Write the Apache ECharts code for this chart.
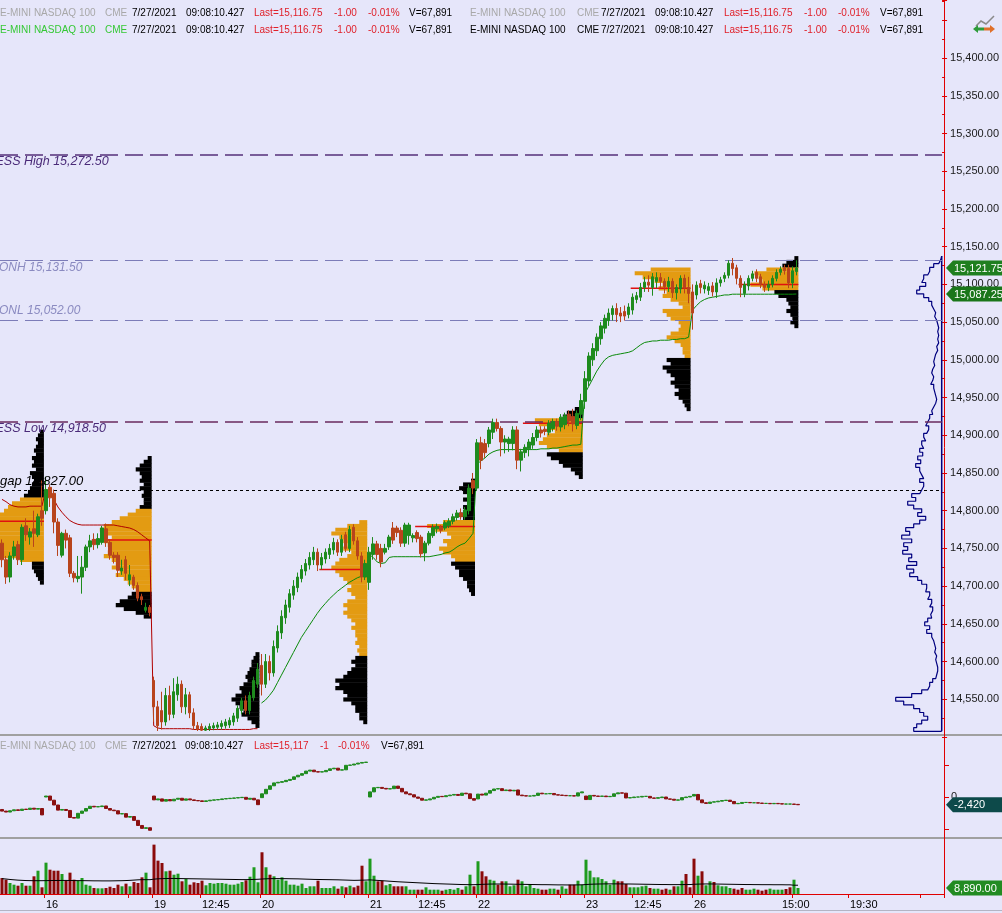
<!DOCTYPE html>
<html><head><meta charset="utf-8">
<script src="https://cdn.jsdelivr.net/npm/echarts@6/dist/echarts.min.js"></script>
<style>html,body{margin:0;padding:0;background:#E6E6FA;}#c{width:1002px;height:913px;}</style>
</head><body><div id="c"></div>
<script>
// ---------------- DATA ----------------
const N_CATS = 236;
const tickLabels = {11:'16',38:'19',50:'12:45',65:'20',92:'21',104:'12:45',119:'22',146:'23',158:'12:45',173:'26',195:'15:00',212:'19:30'};
const tickIdx = [11,32,38,50,65,86,92,104,119,140,146,158,173,198,212,230];

// [open, close, low, high]
const candles = [
[14757,14735,14725,14762],[14735,14712,14703,14740],[14712,14740,14705,14745],[14740,14752,14735,14760],[14755,14735,14728,14760],
[14735,14778,14728,14782],[14780,14768,14760,14790],[14765,14772,14755,14777],[14776,14770,14752,14800],[14768,14792,14765,14796],
[14800,14790,14780,14840],
[14800,14828,14795,14845],[14831,14817,14805,14835],[14823,14785,14770,14828],[14785,14754,14740,14790],[14741,14770,14738,14772],
[14770,14761,14750,14775],[14764,14717,14712,14768],[14717,14711,14705,14720],[14710,14713,14705,14740],[14712,14725,14690,14740],
[14725,14752,14720,14755],[14752,14760,14745,14768],[14762,14755,14748,14770],[14755,14763,14750,14770],[14758,14777,14755,14780],
[14776,14758,14752,14783],[14758,14741,14735,14762],[14741,14738,14730,14745],[14741,14721,14712,14745],[14720,14724,14715,14735],
[14735,14717,14708,14740],[14708,14715,14700,14728],[14712,14701,14695,14715],[14701,14684,14680,14705],[14686,14682,14675,14690],
[14668,14672,14665,14678],[14672,14665,14660,14675],
[14575,14540,14520,14580],[14540,14515,14508,14548],[14535,14520,14510,14560],[14520,14555,14515,14565],[14555,14530,14522,14568],
[14530,14560,14525,14578],[14556,14570,14548,14580],[14570,14540,14532,14575],[14540,14556,14530,14565],[14556,14532,14525,14560],
[14532,14515,14510,14538],[14515,14510,14508,14520],[14514,14509,14508,14518],[14509,14512,14508,14515],[14511,14514,14508,14518],
[14512,14515,14509,14519],[14513,14516,14510,14520],[14514,14518,14510,14522],[14515,14520,14511,14524],[14516,14522,14512,14526],
[14520,14528,14515,14532],[14525,14538,14520,14542],[14535,14548,14530,14552],[14548,14535,14530,14555],[14535,14555,14530,14560],
[14552,14575,14548,14580],[14570,14590,14565,14598],
[14595,14570,14555,14610],[14570,14600,14565,14610],[14600,14585,14575,14608],[14585,14620,14580,14628],[14618,14640,14612,14648],
[14638,14660,14630,14668],[14658,14675,14650,14682],[14672,14690,14665,14696],[14688,14700,14682,14708],[14698,14712,14692,14718],
[14710,14722,14705,14728],[14720,14730,14714,14736],[14728,14738,14722,14745],[14735,14745,14728,14752],[14745,14728,14720,14750],
[14728,14738,14722,14744],[14736,14745,14730,14750],[14742,14750,14736,14756],[14748,14758,14742,14764],[14758,14745,14740,14762],
[14745,14762,14740,14768],[14768,14750,14745,14772],[14750,14775,14745,14780],[14778,14760,14755,14782],[14760,14740,14735,14765],
[14740,14712,14705,14745],[14712,14730,14708,14735],
[14705,14745,14695,14752],[14742,14756,14735,14765],[14756,14742,14735,14760],[14750,14732,14725,14756],[14745,14750,14742,14756],
[14752,14765,14748,14768],[14777,14761,14756,14785],[14777,14771,14765,14780],[14774,14757,14752,14778],[14757,14781,14752,14784],
[14767,14781,14755,14784],[14764,14767,14758,14770],[14771,14763,14758,14774],[14765,14743,14738,14768],[14744,14757,14733,14760],
[14757,14770,14754,14773],[14767,14778,14764,14782],[14776,14779,14770,14783],[14778,14774,14770,14781],[14777,14784,14774,14787],
[14780,14786,14777,14790],[14786,14792,14782,14796],[14791,14797,14787,14801],[14797,14792,14788,14803],[14792,14801,14788,14805],
[14800,14830,14795,14835],[14840,14830,14822,14850],
[14830,14890,14826,14895],[14890,14867,14855,14898],[14889,14877,14870,14895],[14889,14907,14884,14911],[14904,14917,14895,14922],
[14917,14909,14905,14922],[14909,14891,14872,14912],[14891,14895,14876,14900],[14889,14895,14878,14898],[14889,14907,14880,14912],
[14907,14867,14855,14912],[14867,14878,14852,14882],[14877,14884,14870,14888],[14882,14891,14872,14895],[14887,14897,14882,14903],
[14897,14907,14892,14912],[14907,14903,14897,14912],[14908,14905,14900,14912],[14904,14916,14900,14920],[14909,14918,14905,14922],
[14918,14912,14906,14922],[14911,14924,14905,14928],[14914,14926,14908,14930],[14928,14919,14912,14933],[14925,14915,14905,14935],
[14913,14929,14908,14933],[14928,14946,14920,14955],
[14945,14975,14935,14985],[14972,15005,14965,15010],[15000,15015,14992,15022],[15012,15030,15005,15035],[15028,15045,15020,15050],
[15042,15055,15035,15060],[15052,15062,15045,15068],[15060,15068,15052,15072],[15068,15060,15050,15075],[15062,15058,15050,15070],
[15064,15058,15052,15072],[15060,15070,15055,15075],[15066,15083,15060,15088],[15080,15085,15075,15090],[15083,15096,15078,15102],
[15096,15103,15090,15110],[15103,15099,15090,15112],[15096,15110,15085,15115],[15104,15109,15095,15116],[15109,15104,15095,15115],
[15104,15097,15088,15108],[15097,15104,15090,15110],[15104,15089,15082,15108],[15089,15096,15080,15100],[15094,15108,15088,15112],
[15108,15095,15088,15113],[15096,15088,15075,15110],
[15090,15062,15040,15100],[15086,15099,15080,15104],[15101,15096,15088,15106],[15094,15099,15088,15104],[15092,15097,15086,15102],
[15098,15090,15084,15103],[15090,15102,15082,15108],[15102,15106,15097,15110],[15108,15112,15103,15116],[15112,15128,15108,15132],
[15128,15121,15112,15135],[15122,15108,15100,15126],[15108,15096,15083,15112],[15088,15100,15083,15104],[15098,15108,15092,15112],
[15108,15114,15104,15118],[15116,15108,15103,15120],[15110,15100,15095,15114],[15100,15096,15090,15104],[15096,15100,15091,15105],
[15100,15108,15096,15112],[15108,15116,15104,15120],[15116,15120,15112,15124],[15122,15118,15113,15126],[15121,15102,15095,15126],
[15102,15118,15095,15124],[15117,15121.75,15112,15132]
];

// volume (thousands of contracts)
const volume = [
23.7,21.2,16.3,13.8,12.3,16.3,12.3,12.3,26.2,34.5, 9.9,46.4,36.0,34.5,34.5,29.6,19.7,31.6,21.2,19.7,
23.7,13.8,12.3,8.9,8.4,8.4,8.9,10.8,8.9,13.8, 11.4,15.3,11.4,17.8,16.3,24.7,31.6,9.9,73.1,49.4,
45.9,33.6,34.5,28.6,30.1,18.8,22.2,13.8,17.3,16.3, 19.7,12.9,16.3,15.3,16.3,16.3,15.3,13.8,13.8,15.3,
17.8,20.3,25.6,39.6,17.3,61.8,39.6,28.6,26.2,21.2, 24.7,19.7,13.8,13.8,12.3,15.3,8.9,11.4,11.4,19.7,
8.9,8.9,8.9,11.4,7.9,11.4,9.9,12.3,9.9,12.3, 41.9,18.8,52.3,27.1,18.8,19.7,12.9,14.8,11.4,11.4,
11.4,11.4,6.4,6.4,6.4,6.4,9.9,6.4,6.4,6.4, 4.9,6.4,7.4,6.4,8.9,6.4,11.4,28.6,11.4,48.5,
33.6,26.2,21.2,19.7,13.8,18.8,18.8,11.4,12.9,21.2, 18.8,11.4,14.8,8.9,7.9,6.4,6.4,7.9,7.9,6.4,
11.4,7.9,13.8,13.8,19.7,13.8,50.8,34.5,24.7,24.7, 22.2,18.8,13.8,21.2,18.8,18.8,14.8,9.9,9.9,9.9,
11.4,12.3,8.9,7.9,7.9,6.4,7.9,6.4,11.4,11.4, 19.7,29.6,9.9,52.3,27.1,33.6,12.9,18.8,17.8,12.9,
11.4,11.4,8.9,7.9,6.4,8.9,6.4,6.4,7.9,6.4, 4.9,6.4,7.9,6.4,6.4,6.4,7.4,9.9,21.2,8.89
];
const volumeMA = [
22.7,22.2,21.5,21.0,20.5,20.2,19.9,19.8,19.7,19.7,19.7,
19.8,19.9,20.0,20.0,20.1,20.1,20.0,19.9,19.8,19.8,19.7,19.6,19.5,19.5,19.4,19.4,19.4,19.5,19.6,19.7,19.9,20.2,20.6,21.0,21.2,21.2,21.2,
22.0,22.5,22.7,22.9,23.0,23.0,22.9,22.8,22.7,22.6,22.5,22.4,22.3,22.2,22.1,22.0,21.9,21.8,21.7,21.6,21.5,
21.4,21.3,21.3,21.4,21.6,21.8,22.2,22.5,22.7,22.8,22.8,22.7,22.7,
22.6,22.5,22.4,22.2,22.0,21.8,21.6,21.5,21.4,21.3,21.2,21.1,21.0,20.8,20.6,20.4,20.2,20.3,20.5,20.6,20.9,
20.5,20.1,19.7,19.3,18.9,18.5,18.1,17.8,17.5,17.2,16.9,16.6,16.3,16.0,15.7,15.4,15.2,15.0,14.8,14.6,14.4,14.2,14.0,13.9,13.8,13.8,
14.0,14.3,14.5,14.7,14.8,14.8,14.8,14.7,14.6,14.5,14.4,14.3,14.2,14.1,14.0,13.9,13.8,13.8,13.7,13.6,13.5,13.5,13.4,13.4,13.4,13.5,13.6,
14.0,14.4,14.6,14.8,14.9,15.0,15.0,15.0,15.0,14.9,14.9,14.8,14.7,14.6,14.5,14.4,14.3,14.2,14.1,14.0,14.0,13.9,13.9,13.9,13.9,14.0,14.0,
14.4,14.6,14.8,14.9,14.9,14.8,14.7,14.6,14.5,14.4,14.3,14.2,14.1,14.0,14.0,13.9,13.9,13.8,13.8,13.8,13.7,13.7,13.7,13.6,13.6,13.0,13.0
];

// session delta indicator, thousands: [open, close]
const delta = [
[-3.9,-4.4],[-4.4,-4.7],[-4.7,-4.3],[-4.3,-4.0],[-4.0,-4.2],[-4.2,-3.8],[-3.8,-3.9],[-3.9,-3.5],[-3.5,-3.8],[-3.8,-3.6],[-3.6,-5.6],
[0,0.3],[0.3,-1.0],[-1.0,-2.5],[-2.5,-4.1],[-4.1,-3.9],[-3.9,-4.2],[-4.2,-6.4],[-6.4,-6.6],[-6.6,-5.1],[-5.1,-4.4],
[-4.4,-3.6],[-3.6,-2.9],[-2.9,-3.1],[-3.1,-3.0],[-3.0,-2.8],[-2.8,-3.6],[-3.6,-4.1],[-4.1,-4.3],[-4.3,-5.3],[-5.3,-5.2],
[-5.2,-6.3],[-6.3,-6.1],[-6.1,-7.3],[-7.3,-8.9],[-8.9,-9.8],[-9.8,-9.6],[-9.6,-10.4],
[0.3,-0.9],[-0.9,-0.6],[-0.6,-1.3],[-1.3,-0.8],[-0.8,-1.2],[-1.2,-0.7],[-0.7,-0.4],[-0.4,-1.0],[-1.0,-0.6],[-0.6,-0.9],
[-0.9,-1.1],[-1.1,-1.2],[-1.2,-1.4],[-1.4,-1.2],[-1.2,-1.0],[-1.0,-0.9],[-0.9,-0.8],[-0.8,-0.6],[-0.6,-0.5],[-0.5,-0.4],
[-0.4,-0.3],[-0.3,-0.2],[-0.2,-0.1],[-0.1,-0.7],[-0.7,-0.4],[-0.4,-0.9],[-0.9,-2.4],
[-0.2,1.0],[1.0,2.4],[2.4,3.5],[3.5,4.4],[4.4,4.6],[4.6,4.8],[4.8,5.2],[5.2,5.5],[5.5,6.3],[6.3,6.8],
[6.8,7.3],[7.3,8.1],[8.1,8.4],[8.4,7.9],[7.9,7.8],[7.8,7.9],[7.9,8.3],[8.3,8.8],[8.8,9.0],[9.0,8.4],
[8.4,8.5],[8.5,9.9],[9.9,10.0],[10.0,10.3],[10.3,10.6],[10.6,10.8],[10.8,10.9],
[0,1.6],[1.6,2.9],[2.9,3.0],[3.0,2.7],[2.7,2.5],[2.5,2.6],[2.6,3.4],[3.4,2.7],[2.7,1.6],[1.6,1.0],
[1.0,0.7],[0.7,0.0],[0.0,-0.4],[-0.4,-1.0],[-1.0,-0.9],[-0.9,-0.6],[-0.6,-0.1],[-0.1,0.2],[0.2,0.1],[0.1,0.4],
[0.4,0.6],[0.6,0.8],[0.8,0.5],[0.5,1.2],[1.2,1.0],[1.0,-0.5],[-0.5,-1.0],
[-0.6,0.9],[0.9,0.6],[0.6,1.2],[1.2,2.0],[2.0,2.5],[2.5,2.6],[2.6,2.0],[2.0,2.2],[2.2,1.9],[1.9,2.1],
[2.2,0.6],[0.6,0.4],[0.4,0.3],[0.3,0.3],[0.3,0.5],[0.5,1.2],[1.2,1.0],[1.0,1.0],[1.0,1.1],[1.1,0.7],
[0.7,0.6],[0.6,0.5],[0.5,0.4],[0.4,0.4],[0.4,0.3],[0.3,1.3],[1.3,1.6],
[0.3,-0.8],[-0.8,0.5],[0.5,0.3],[0.3,0.2],[0.2,0.3],[0.3,0.1],[0.1,0.2],[0.2,1.0],[1.0,1.3],[1.3,1.2],
[1.2,-0.3],[-0.3,-0.2],[-0.2,0.0],[0.0,0.0],[0.0,0.2],[0.2,0.2],[0.2,-0.3],[-0.3,-0.4],[-0.4,-0.2],[-0.2,0.0],
[0.0,-0.6],[-0.6,-0.7],[-0.7,-1.0],[-1.0,-0.9],[-0.9,-0.2],[-0.2,0.0],[0.0,0.2],
[0.3,0.8],[0.8,-0.9],[-0.9,-1.8],[-1.8,-2.0],[-2.0,-1.6],[-1.6,-1.5],[-1.5,-1.3],[-1.3,-1.1],[-1.1,-1.0],[-1.0,-1.4],
[-1.4,-2.1],[-2.1,-2.0],[-2.0,-1.7],[-1.7,-1.7],[-1.7,-1.8],[-1.8,-1.8],[-1.8,-1.9],[-1.9,-2.0],[-2.0,-2.0],[-2.0,-2.1],
[-2.1,-2.0],[-2.0,-2.1],[-2.1,-2.2],[-2.2,-2.2],[-2.2,-2.2],[-2.2,-2.3],[-2.3,-2.42]
];

// VWAP lines
const vwapRed = [ // idx 0..64
14815,14812,14808,14806,14805,14805,14805,14806,14806,14806,14806,
14828,14826,14815,14805,14798,14792,14787,14784,14782,14781,14781,14781,14781,14781,14781,14781,14781,14781,14780,14779,14778,14777,14775,14772,14768,14764,14760,
14515,14512,14511,14511,14511,14511,14511,14511,14511,14511,14510,14510,14510,14510,14510,14510,14510,14510,14510,14510,14510,14510,14510,14510,14510,14511,14511
];
const vwapGreenStart = 65;
const vwapGreen = [ // idx 65..199
14545,14549,14555,14562,14572,14582,14592,14602,14612,14622,14632,14640,14648,14656,14664,14671,14677,14683,14688,14693,14697,14701,14705,14708,14711,14713,14715,
14742,14738,14732,14730,14731,14738,14739,14739,14739,14739,14739,14739,14739,14739,14739,14739,14740,14741,14742,14744,14745,14748,14752,14755,14757,14763,14770,
14862,14866,14870,14875,14878,14880,14881,14881,14881,14881,14881,14881,14881,14881,14881,14881,14882,14882,14882,14883,14883,14884,14885,14886,14887,14887,14888,
14955,14965,14975,14985,14993,15000,15004,15006,15007,15008,15009,15010,15012,15016,15020,15023,15024,15025,15025,15026,15026,15026,15027,15027,15028,15028,15030,
15066,15072,15077,15080,15082,15083,15084,15085,15086,15086,15087,15087,15087,15087,15087,15087,15087,15087,15087,15087,15087,15087,15087,15087,15087,15087,15087.25
];

// session volume profiles: meta [lastBarIdx, topPrice, valueAreaLow, valueAreaHigh]; widths in bars, 5-pt levels going down
const profMeta = [[10,14905,14735,14815],[37,14870,14695,14800],[64,14610,0,0],[91,14785,14610,14785],
                  [118,14840,14735,14785],[145,14935,14880,14920],[172,15120,15005,15120],[199,15135,15095,15120]];
const prof15 = [1,1.5,2,1.5,2,2.5,2,3,2.5,3,2,3.5,3,2.5,3,3.5,4,5,6,8,9,10,11,12,13,12,12,13,12,12,13,12,11,10,6,3,3,2.5,2,1.5,1];
const prof16 = [1,2,3,4,3,2.5,3,2,3,2,2.5,2,2,3,4,6,8,10,12,13,11,10,12,11,10,11,12,10,9,10,8,9,7,6,5,4,5,6,8,9,7,4,2];
const prof19 = [1,1.5,2,2,2.5,3,3.5,3,4,5,4.5,6,7,6,5,4,4.5,3,2,1];
const prof20 = [2,5,8,9,7,6,5,6,4,5,7,8,9,8,7,6,5,4,5,4,3,5,6,5,6,5,4,3,4,3,3,2.5,3,2,2.5,2,3,4,3,4,5,6,8,7,8,6,5,6,4,3,3,2,2,1];
const prof21 = [1,3,4,3,2,3,2,3,2.5,4,3,8,12,10,7,6,8,7,9,8,6,5,6,5,4,4,3,2,2,1.5,1];
const prof22 = [2,4,5,12,11,8,7,9,10,11,9,6,9,8,6,5,3,2,1];
const prof23 = [10,14,12,9,7,8,6,7,5,3,2,7,6,5,3,2.5,3,5,6,4,2.5,2,2,1.5,6,5,7,6,5,4,5,4,3,4,3,2,1.5,1];
const prof26 = [1,3,4,8,11,10,9,12,9,6,5,3,2.5,2,3,2,1.5,2,1];
const profWidths = [prof15,prof16,prof19,prof20,prof21,prof22,prof23,prof26];

// point of control lines [fromIdx, toIdx, price]
const pocLines = [[0,10,14786],[23,37,14761],[80,91,14722],[104,118,14779],[131,145,14916],[158,172,15095],[185,199,15100]];

// composite profile (right side), 5-pt levels from compTop down, width in px units
const compTop = 15135;
const compW = [1,3,8,12,14,18,20,16,22,25, 18,13,10,8,6,7,5,4,3,4, 3,4,3,5,4,6,7,8,7,9, 10,8,9,11,8,7,6,5,6,8,
 10,9,12,14,16,13,15,18,16,20, 18,22,19,24,21,26,22,20,18,22, 18,20,22,30,26,34,28,20,24,16, 22,28,36,32,40,30,38,34,39,30,
 33,25,35,28,32,24,20,15,16,12, 14,10,12,9,11,10,14,17,12,15, 10,8,7,6,7,5,6,5,4,4, 5,6,9,12,14,20,30,46,38,28, 22,18,14,20,25,28];

// reference lines
const refValues = [15272.5, 15131.5, 15052, 14918.5, 14827];
const refTexts = ['ESS High 15,272.50','ONH 15,131.50','ONL 15,052.00','ESS Low 14,918.50','gap 14,827.00'];

// header texts
const hdrText = ['E-MINI NASDAQ 100','CME','7/27/2021','09:08:10.427','Last=15,116.75','-1.00','-0.01%','V=67,891'];
const hdrX1 = [0,105,132,186,254,334,368,409];
const hdrX2 = [470,577,601,655,724,804,838,880];
const hdrText3 = ['E-MINI NASDAQ 100','CME','7/27/2021','09:08:10.427','Last=15,117','-1','-0.01%','V=67,891'];
const hdrX3 = [0,105,132,185,254,320,338,381];

// ---------------- STYLE ----------------
const FONT = '"Liberation Sans", Arial, sans-serif';
const UP = '#1E8B1E', DN = '#B8441C', VUP = '#1E9B1E', VDN = '#8B0A0A';
const AXRED = '#E00000';
const refStyle = [
  {c:'#55307A', w:1.5, t:[18,7], lc:'#4A2A78', fs:12.5, x:-4.5, dy:7},
  {c:'#7C7CB8', w:1, t:[18,7], lc:'#8A8AC0', fs:12, x:-1, dy:7},
  {c:'#7C7CB8', w:1, t:[18,7], lc:'#8A8AC0', fs:12, x:-1, dy:-10},
  {c:'#6A2A5E', w:1.5, t:[18,7], lc:'#4A2A78', fs:12.5, x:-4.5, dy:7},
  {c:'#000000', w:1, t:[3,3], lc:'#000000', fs:13, x:0, dy:-9}
];

const cats = Array.from({length:N_CATS}, (_, i) => String(i));
const fmt2 = v => v.toLocaleString('en-US',{minimumFractionDigits:2, maximumFractionDigits:2});

// profile table
const profData = [];
profMeta.forEach((m, k) => {
  profWidths[k].forEach((w, i) => {
    const p = m[1] - 5 * i;
    const va = (p >= m[2] && p <= m[3]) ? 1 : 0;
    profData.push([m[0], p, w, va]);
  });
});
const compData = [[0, compTop + 2.5]];
compW.forEach((w, i) => { const p = compTop - 5 * i; compData.push([w, p + 2.5]); compData.push([w, p - 2.5]); });
const compBottom = compTop - 5 * (compW.length - 1) - 2.5;
compData.push([0, compBottom]);

const chart = echarts.init(document.getElementById('c'), null, {width:1002, height:913});

const hiddenCat = (gi) => ({type:'category', gridIndex:gi, data:cats, boundaryGap:true,
  axisLine:{show:false}, axisTick:{show:false}, axisLabel:{show:false}, splitLine:{show:false}});

const option = {
  backgroundColor:'#E6E6FA',
  animation:false,
  grid:[
    {left:0, width:944, top:0, height:737},
    {left:0, width:944, top:741, height:88},
    {left:0, width:944, top:842, height:52},
    {left:860, width:81.7, top:0, height:737}
  ],
  xAxis:[
    hiddenCat(0), hiddenCat(1),
    {type:'category', gridIndex:2, data:cats, boundaryGap:true,
     axisLine:{show:true, lineStyle:{color:AXRED, width:1}},
     axisTick:{show:true, length:4, lineStyle:{color:AXRED}, interval:(i) => tickIdx.indexOf(i) >= 0},
     axisLabel:{show:true, interval:(i) => tickLabels[i] !== undefined, formatter:(v, i) => tickLabels[+v] || '',
       align:'left', margin:5, color:'#000', fontSize:11, fontFamily:FONT},
     splitLine:{show:false}},
    {type:'value', gridIndex:3, min:0, max:81.7, inverse:true, show:false}
  ],
  yAxis:[
    {type:'value', gridIndex:0, position:'right', min:14500, max:15477, interval:50, scale:false,
     axisLine:{show:false}, splitLine:{show:false},
     axisTick:{show:true, length:5, lineStyle:{color:AXRED}},
     minorTick:{show:true, splitNumber:2, length:3, lineStyle:{color:AXRED}},
     axisLabel:{margin:8, color:'#1a1a1a', fontSize:11, fontFamily:FONT, showMaxLabel:false, showMinLabel:false,
       formatter:(v) => (v < 14550 || v > 15400) ? '' : fmt2(v)}},
    {type:'value', gridIndex:1, position:'right', min:-10, max:17.5, interval:10,
     axisLine:{show:false}, splitLine:{show:false},
     axisTick:{show:true, length:5, lineStyle:{color:AXRED}},
     axisLabel:{margin:7, color:'#1a1a1a', fontSize:11, fontFamily:FONT, showMaxLabel:false, formatter:(v) => v === 0 ? '0' : ''}},
    {type:'value', gridIndex:2, position:'right', min:0, max:77, show:false},
    {type:'value', gridIndex:3, min:14500, max:15477, show:false}
  ],
  series:[
    {type:'custom', name:'profiles', xAxisIndex:0, yAxisIndex:0, z:1, silent:true,
     data:profData, encode:{x:0, y:1},
     renderItem:(params, api) => {
       const end = api.value(0), p = api.value(1), w = api.value(2), va = api.value(3);
       const bw = api.size([1, 0])[0];
       const right = api.coord([end, p])[0] + bw / 2;
       const yT = api.coord([end, p + 2.5])[1], yB = api.coord([end, p - 2.5])[1];
       return {type:'rect', shape:{x:right - w * bw, y:yT, width:w * bw, height:yB - yT + 0.4},
               style:{fill: va ? '#E39B12' : '#000000'}};
     }},
    {type:'custom', name:'poc', xAxisIndex:0, yAxisIndex:0, z:3, silent:true,
     data:pocLines, encode:{x:[0,1], y:2},
     renderItem:(params, api) => {
       const bw = api.size([1, 0])[0];
       const a = api.coord([api.value(0), api.value(2)]), b = api.coord([api.value(1), api.value(2)]);
       return {type:'line', shape:{x1:a[0] - bw / 2, y1:a[1], x2:b[0] + bw / 2, y2:b[1]},
               style:{stroke:'#E01010', lineWidth:1.5}};
     }},
    {type:'line', xAxisIndex:0, yAxisIndex:0, z:4, silent:true, symbol:'none',
     data:vwapRed.map((v, i) => [i, v]), lineStyle:{color:'#B00000', width:1}},
    {type:'line', xAxisIndex:0, yAxisIndex:0, z:4, silent:true, symbol:'none',
     data:vwapGreen.map((v, i) => [i + vwapGreenStart, v]), lineStyle:{color:'#0A8A0A', width:1}},
    {type:'candlestick', xAxisIndex:0, yAxisIndex:0, z:5, silent:true, barWidth:3,
     data:candles,
     itemStyle:{color:UP, color0:DN, borderColor:UP, borderColor0:DN, borderWidth:1},
     markLine:{silent:true, symbol:['none','none'], label:{show:false}, animation:false,
       data:refValues.map((v, k) => ({yAxis:v, lineStyle:{color:refStyle[k].c, width:refStyle[k].w, type:refStyle[k].t}}))}},
    {type:'candlestick', xAxisIndex:1, yAxisIndex:1, silent:true, barWidth:3,
     data:delta.map(d => [d[0], d[1], Math.min(d[0], d[1]), Math.max(d[0], d[1])]),
     itemStyle:{color:'#1E8B1E', color0:'#8B1010', borderColor:'#1E8B1E', borderColor0:'#8B1010', borderWidth:1}},
    {type:'bar', xAxisIndex:2, yAxisIndex:2, silent:true, barWidth:3,
     data:volume.map((v, i) => ({value:v, itemStyle:{color: candles[i][1] >= candles[i][0] ? VUP : VDN}}))},
    {type:'line', xAxisIndex:2, yAxisIndex:2, silent:true, symbol:'none', z:5,
     data:volumeMA.map((v, i) => [i, v]), lineStyle:{color:'#000', width:1}},
    {type:'line', xAxisIndex:3, yAxisIndex:3, silent:true, symbol:'none',
     data:compData, lineStyle:{color:'#00007F', width:1.2}},
    {type:'line', xAxisIndex:3, yAxisIndex:3, silent:true, symbol:'none',
     data:[[0, compTop + 2.5], [0, compBottom]], lineStyle:{color:'#00007F', width:1.5}}
  ]
};
chart.setOption(option);

// ---------------- GRAPHICS (positions from the chart's own scales) ----------------
const g = [];
function txt(x, y, s, color, size, extra) {
  g.push({type:'text', x:x, y:y, silent:true, z:100,
    style:Object.assign({text:s, fill:color, fontSize:size, fontFamily:FONT, verticalAlign:'middle', align:'left'}, extra || {})});
}
// separators and axis line
g.push({type:'rect', silent:true, z:90, shape:{x:0, y:734, width:1002, height:2}, style:{fill:'#A0A0A0'}});
g.push({type:'rect', silent:true, z:90, shape:{x:0, y:837, width:1002, height:2}, style:{fill:'#A0A0A0'}});
g.push({type:'rect', silent:true, z:90, shape:{x:0, y:910, width:1002, height:1}, style:{fill:'#B4B4C4'}});
g.push({type:'line', silent:true, z:95, shape:{x1:944.5, y1:0, x2:944.5, y2:895}, style:{stroke:AXRED, lineWidth:1}});

// headers
const hColors = ['n','n','#000','#000','#E0202A','#E0202A','#E0202A','#000'];
hdrText.forEach((s, k) => {
  txt(hdrX1[k], 13, s, hColors[k] === 'n' ? '#A8A8A8' : hColors[k], 10);
  txt(hdrX2[k], 13, s, hColors[k] === 'n' ? '#A8A8A8' : hColors[k], 10);
  txt(hdrX1[k], 30, s, hColors[k] === 'n' ? '#35C835' : hColors[k], 10);
  txt(hdrX2[k], 30, s, hColors[k] === 'n' ? '#000' : hColors[k], 10);
});
hdrText3.forEach((s, k) => txt(hdrX3[k], 746, s, hColors[k] === 'n' ? '#A8A8A8' : hColors[k], 10));

// reference line labels
refValues.forEach((v, k) => {
  const y = chart.convertToPixel({yAxisIndex:0}, v);
  const st = refStyle[k];
  txt(st.x, y + st.dy, refTexts[k], st.lc, st.fs, {fontStyle:'italic'});
});

// value tags
function tag(y, s, fill) {
  g.push({type:'polygon', silent:true, z:96, shape:{points:[[946, y], [953, y - 7.5], [1002, y - 7.5], [1002, y + 7.5], [953, y + 7.5]]},
    style:{fill:fill}});
  txt(954, y + 0.5, s, '#FFFFFF', 11);
}
const lastC = candles[candles.length - 1][1];
const lastV = vwapGreen[vwapGreen.length - 1];
const lastD = delta[delta.length - 1][1];
const lastVol = volume[volume.length - 1];
tag(chart.convertToPixel({yAxisIndex:0}, lastC), fmt2(lastC), '#1F7F1F');
tag(chart.convertToPixel({yAxisIndex:0}, lastV), fmt2(lastV), '#1A761A');
tag(chart.convertToPixel({yAxisIndex:1}, lastD), Math.round(lastD * 1000).toLocaleString('en-US'), '#0D4A4A');
tag(chart.convertToPixel({yAxisIndex:2}, lastVol), fmt2(lastVol * 1000), '#228B22');

// top-right icon
g.push({type:'polyline', silent:true, z:96, shape:{points:[[976,26],[981,21],[986,24],[994,16]]}, style:{stroke:'#8A8A8A', lineWidth:1.5, fill:null}});
g.push({type:'polygon', silent:true, z:96, shape:{points:[[973,29],[978,25],[978,27.5],[984,27.5],[984,30.5],[978,30.5],[978,33]]}, style:{fill:'#2E9B3A'}});
g.push({type:'polygon', silent:true, z:96, shape:{points:[[995,29],[990,25],[990,27.5],[984,27.5],[984,30.5],[990,30.5],[990,33]]}, style:{fill:'#E0702A'}});

chart.setOption({graphic:g});
</script>
</body></html>
